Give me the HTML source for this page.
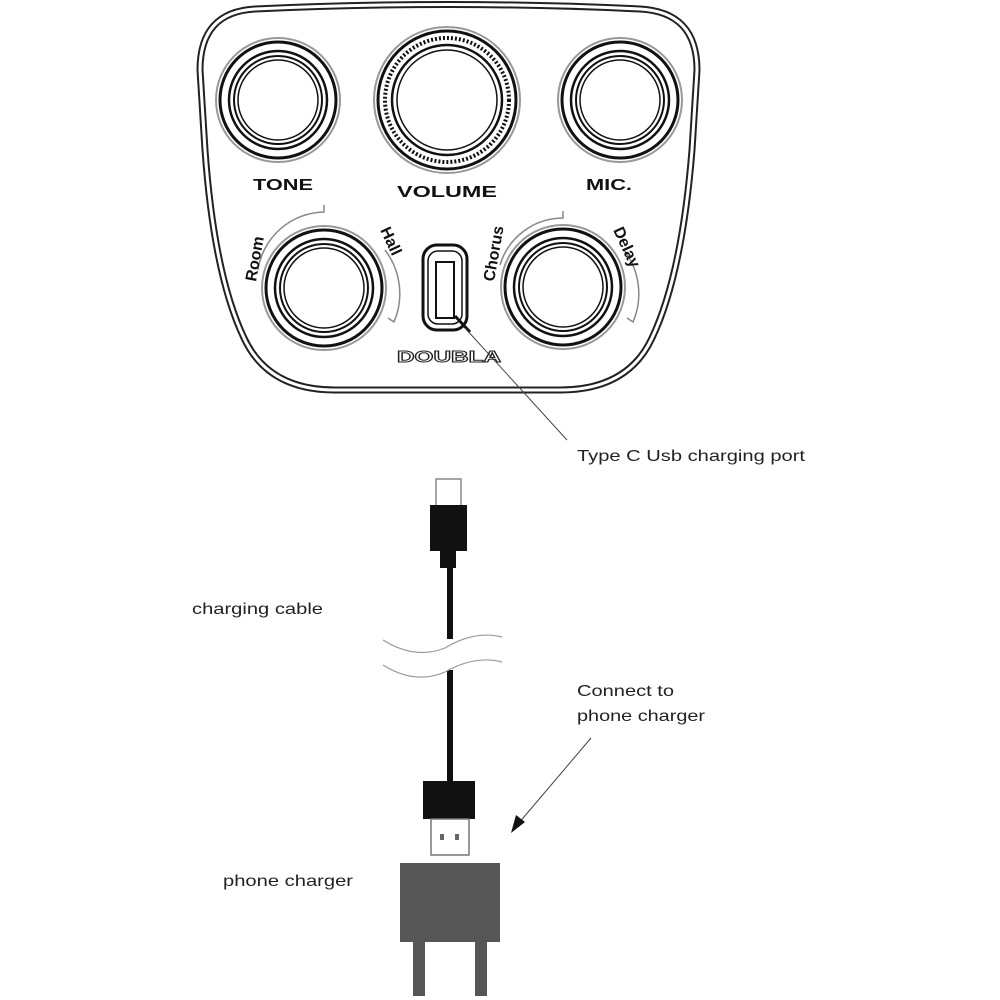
<!DOCTYPE html>
<html><head><meta charset="utf-8"><style>html,body{margin:0;padding:0;background:#fff;}svg{display:block}</style></head>
<body>
<svg width="1000" height="1000" viewBox="0 0 1000 1000" xmlns="http://www.w3.org/2000/svg" font-family="Liberation Sans, sans-serif">
<rect width="1000" height="1000" fill="#fff"/>
<path d="M255,9 Q450,0 640,9 Q697,12 697,70 L692,150 Q682,275 652,338 Q628,390 560,390 L335,390 Q268,390 244,338 Q214,275 205,150 L200,70 Q200,12 255,9 Z" fill="none" stroke="#222" stroke-width="7"/>
<path d="M255,9 Q450,0 640,9 Q697,12 697,70 L692,150 Q682,275 652,338 Q628,390 560,390 L335,390 Q268,390 244,338 Q214,275 205,150 L200,70 Q200,12 255,9 Z" fill="none" stroke="#fff" stroke-width="3"/>
<g fill="none" stroke="#111">
<circle cx="278" cy="100" r="62" stroke="#999" stroke-width="2"/>
<circle cx="278" cy="100" r="58" stroke-width="3"/>
<circle cx="278" cy="100" r="49" stroke-width="2.5"/>
<circle cx="278" cy="100" r="44" stroke-width="2"/>
<circle cx="278" cy="100" r="40" stroke-width="1.5"/>
<circle cx="620" cy="100" r="62" stroke="#999" stroke-width="2"/>
<circle cx="620" cy="100" r="58" stroke-width="3"/>
<circle cx="620" cy="100" r="49" stroke-width="2.5"/>
<circle cx="620" cy="100" r="44" stroke-width="2"/>
<circle cx="620" cy="100" r="40" stroke-width="1.5"/>
<circle cx="447" cy="100" r="73" stroke="#999" stroke-width="2"/>
<circle cx="447" cy="100" r="69" stroke-width="3"/>
<circle cx="447" cy="100" r="62" stroke-width="4" stroke-dasharray="2 2"/>
<circle cx="447" cy="100" r="55" stroke-width="2.5"/>
<circle cx="447" cy="100" r="50" stroke-width="1.5"/>
<path d="M258,270 A68,68 0 0 1 324,212 L324,205" stroke="#888" stroke-width="1.5"/>
<path d="M385,250 A72,72 0 0 1 394,322 L388,318" stroke="#888" stroke-width="1.5"/>
<circle cx="324" cy="288" r="62" stroke="#999" stroke-width="2"/>
<circle cx="324" cy="288" r="58" stroke-width="3"/>
<circle cx="324" cy="288" r="49" stroke-width="2.5"/>
<circle cx="324" cy="288" r="44" stroke-width="2"/>
<circle cx="324" cy="288" r="40" stroke-width="1.5"/>
<path d="M500,265 A66,66 0 0 1 563,218 L563,211" stroke="#888" stroke-width="1.5"/>
<path d="M624,250 A72,72 0 0 1 633,322 L627,318" stroke="#888" stroke-width="1.5"/>
<circle cx="563" cy="287" r="62" stroke="#999" stroke-width="2"/>
<circle cx="563" cy="287" r="58" stroke-width="3"/>
<circle cx="563" cy="287" r="49" stroke-width="2.5"/>
<circle cx="563" cy="287" r="44" stroke-width="2"/>
<circle cx="563" cy="287" r="40" stroke-width="1.5"/>
<rect x="423" y="245" width="44" height="85" rx="14" stroke-width="3"/>
<rect x="428" y="251" width="34" height="73" rx="10" stroke-width="1.5"/>
<rect x="436" y="262" width="18" height="56" stroke-width="2"/>
<line x1="455" y1="316" x2="470" y2="332" stroke-width="3"/>
<line x1="465" y1="328" x2="567" y2="440" stroke="#444" stroke-width="1"/>
</g>
<g fill="#111" font-weight="bold">
<text x="253" y="190" font-size="16" textLength="60" lengthAdjust="spacingAndGlyphs">TONE</text>
<text x="397" y="197" font-size="16" textLength="100" lengthAdjust="spacingAndGlyphs">VOLUME</text>
<text x="586" y="190" font-size="16" textLength="46" lengthAdjust="spacingAndGlyphs">MIC.</text>
<text x="397" y="362" font-size="16" textLength="104" lengthAdjust="spacingAndGlyphs" fill="none" stroke="#222" stroke-width="1">DOUBLA</text>
<text font-size="16" transform="translate(256,282) rotate(-80)">Room</text>
<text font-size="16" transform="translate(380,230) rotate(65)">Hall</text>
<text font-size="16" transform="translate(494,282) rotate(-80)">Chorus</text>
<text font-size="16" transform="translate(613,230) rotate(65)">Delay</text>
</g>
<g fill="#222" font-size="16">
<text x="577" y="461" textLength="228" lengthAdjust="spacingAndGlyphs">Type C Usb charging port</text>
<text x="192" y="614" textLength="131" lengthAdjust="spacingAndGlyphs">charging cable</text>
<text x="577" y="696" textLength="97" lengthAdjust="spacingAndGlyphs">Connect to</text>
<text x="577" y="721" textLength="128" lengthAdjust="spacingAndGlyphs">phone charger</text>
<text x="223" y="886" textLength="130" lengthAdjust="spacingAndGlyphs">phone charger</text>
</g>
<rect x="436" y="479" width="25" height="27" fill="none" stroke="#888" stroke-width="1.5"/>
<rect x="430" y="505" width="37" height="46" fill="#111"/>
<rect x="440" y="550" width="16" height="18" fill="#111"/>
<rect x="447" y="566" width="6" height="73" fill="#111"/>
<rect x="447" y="670" width="6" height="112" fill="#111"/>
<path d="M383,640 Q415,660 445,648 Q475,630 502,637" fill="none" stroke="#999" stroke-width="1.2"/>
<path d="M383,665 Q415,685 445,672 Q475,655 502,662" fill="none" stroke="#999" stroke-width="1.2"/>
<rect x="423" y="781" width="52" height="38" fill="#111"/>
<rect x="431" y="819" width="38" height="36" fill="#fff" stroke="#777" stroke-width="1.5"/>
<rect x="440" y="834" width="4" height="6" fill="#666"/>
<rect x="455" y="834" width="4" height="6" fill="#666"/>
<rect x="400" y="863" width="100" height="79" fill="#565656"/>
<rect x="413" y="941" width="12" height="55" fill="#565656"/>
<rect x="475" y="941" width="12" height="55" fill="#565656"/>
<line x1="591" y1="738" x2="518" y2="824" stroke="#444" stroke-width="1"/>
<polygon points="511,833 516,815 525,822" fill="#111"/>
</svg>
</body></html>
